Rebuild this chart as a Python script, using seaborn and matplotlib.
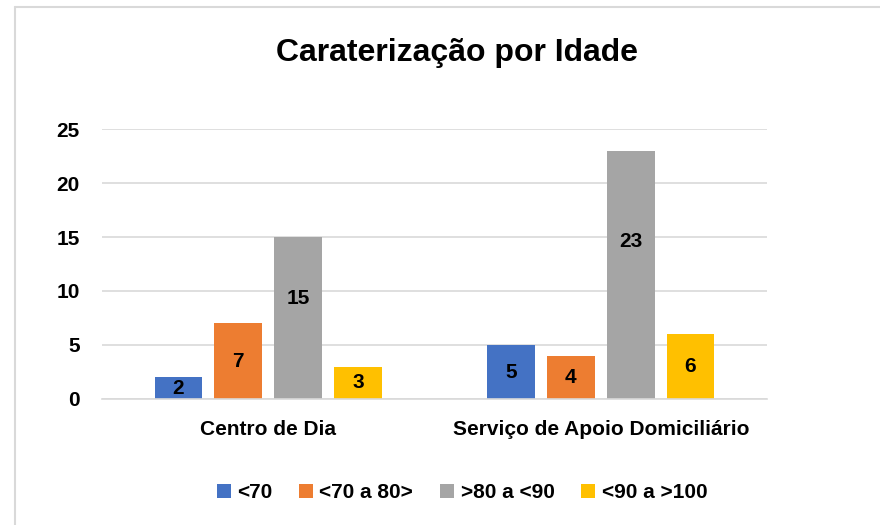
import matplotlib
matplotlib.use("Agg")
import matplotlib.pyplot as plt
import seaborn as sns
import pandas as pd
from matplotlib.patches import Patch
from matplotlib.lines import Line2D

categories = ["Centro de Dia", "Serviço de Apoio Domiciliário"]
groups = ["<70", "<70 a 80>", ">80 a <90", "<90 a >100"]
centro_de_dia = [2, 7, 15, 3]
apoio_domiciliario = [5, 4, 23, 6]
label_frac = [[0.5, 0.5, 0.62, 0.5], [0.5, 0.5, 0.635, 0.5]]
colors = ["#4472C4", "#ED7D31", "#A5A5A5", "#FFC000"]
yticks = [0, 5, 10, 15, 20, 25]

rows = []
for cat, vals in zip(categories, [centro_de_dia, apoio_domiciliario]):
    for g, v in zip(groups, vals):
        rows.append({"cat": cat, "grp": g, "val": v})
df = pd.DataFrame(rows)

sns.set_theme(style="white")
FONT = ["Liberation Sans", "DejaVu Sans"]
plt.rcParams["font.family"] = FONT
plt.rcParams["text.color"] = "black"

fig = plt.figure(figsize=(8.8, 5.25), dpi=100)
ax = fig.add_axes([102/880, 1-399/525, 665/880, 270/525])

sns.barplot(data=df, x="cat", y="val", hue="grp", hue_order=groups, order=categories,
            palette=colors, width=0.72, gap=0.2, ax=ax, legend=False,
            saturation=1, errorbar=None, linewidth=0, edgecolor="none")

ax.set_xlim(-0.5, 1.5)
ax.set_ylim(0, 25)
ax.set_yticks(yticks)
ax.set_yticklabels([str(t) for t in yticks], fontsize=15, fontweight="bold")
ax.yaxis.grid(True, color="#D9D9D9", linewidth=1.2)
ax.set_axisbelow(True)
for s in ["top", "right", "left"]:
    ax.spines[s].set_visible(False)
ax.spines["bottom"].set_color("#D9D9D9")
ax.spines["bottom"].set_linewidth(1.2)
ax.tick_params(axis="y", length=0, pad=16, colors="black")
ax.tick_params(axis="x", length=0, pad=15, colors="black")
ax.set_xticklabels(categories, fontsize=15, fontweight="bold")
ax.set_xlabel("")
ax.set_ylabel("")

# data labels
for gi, cont in enumerate(ax.containers):
    for ci, bar in enumerate(cont):
        h = bar.get_height()
        x = bar.get_x() + bar.get_width() / 2
        ax.text(x, h * label_frac[ci][gi], f"{int(h)}", ha="center", va="center",
                fontsize=15, fontweight="bold", color="black")

fig.suptitle("Caraterização por Idade", x=457/880, y=1-53/525, va="center",
             fontsize=23, fontweight="bold", color="black")

handles = [Patch(facecolor=c, edgecolor="none") for c in colors]
fig.legend(handles, groups, loc="center", bbox_to_anchor=(462/880, 1-493/525),
           ncol=4, frameon=False, prop={"weight": "bold", "size": 15, "family": FONT},
           handlelength=0.67, handleheight=0.67, handletextpad=0.3, columnspacing=1.3)

# chart border
fig.add_artist(Line2D([15/880, 1], [1-7/525, 1-7/525], color="#D9D9D9", lw=1.5))
fig.add_artist(Line2D([15/880, 15/880], [0, 1-7/525], color="#D9D9D9", lw=1.5))

fig.savefig("out.png", dpi=100, facecolor="white")
